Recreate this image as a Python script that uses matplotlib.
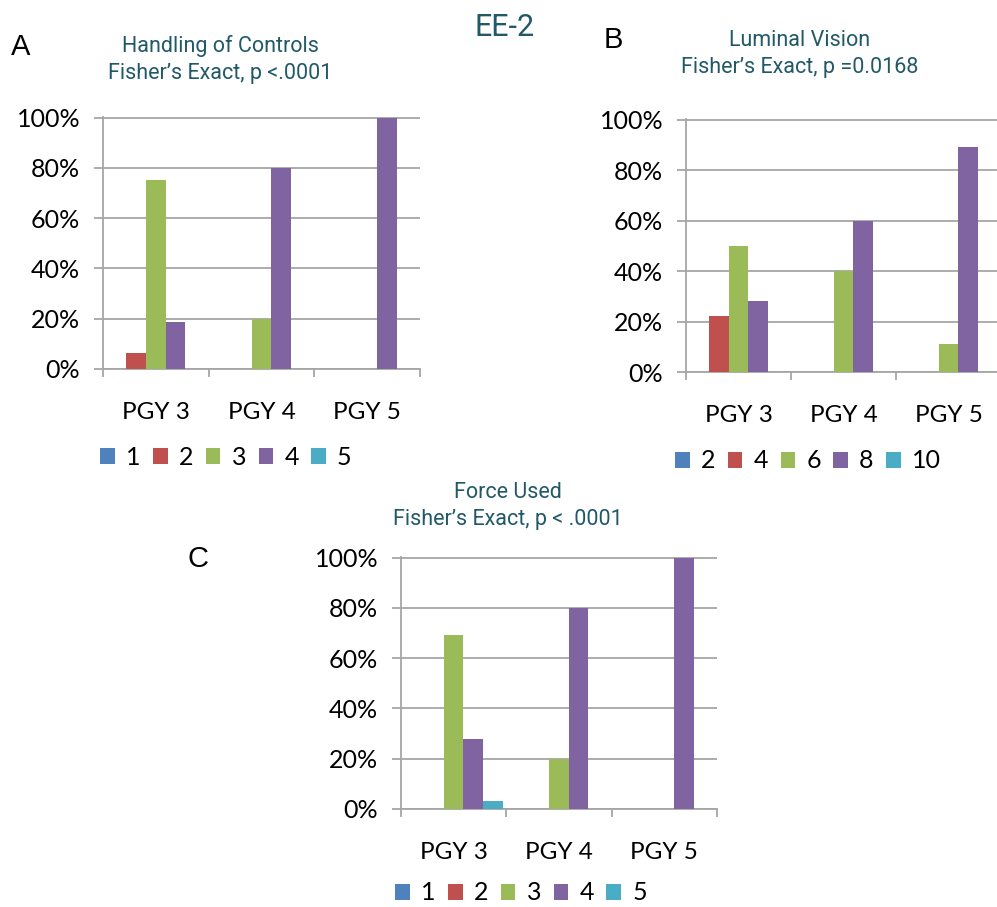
import matplotlib.pyplot as plt
from matplotlib.patches import Patch

# Excel 2007 default series colours
colors = ["#4F81BD", "#C0504D", "#9BBB59", "#8064A2", "#4BACC6"]
groups = ["PGY 3", "PGY 4", "PGY 5"]
teal = "#215968"

# A: Handling of Controls (percent per series, over PGY 3/4/5)
controls_series = ["1", "2", "3", "4", "5"]
controls_values = [[0, 0, 0], [6.25, 0, 0], [75, 20, 0], [18.75, 80, 100], [0, 0, 0]]

# B: Luminal Vision
vision_series = ["2", "4", "6", "8", "10"]
vision_values = [[0, 0, 0], [22, 0, 0], [50, 40, 11], [28, 60, 89], [0, 0, 0]]

# C: Force Used
force_series = ["1", "2", "3", "4", "5"]
force_values = [[0, 0, 0], [0, 0, 0], [69, 20, 0], [28, 80, 100], [3, 0, 0]]

W, H = 997, 907
plt.rcParams["font.family"] = ["Lato", "DejaVu Sans"]
fig = plt.figure(figsize=(W / 100, H / 100), dpi=100)


def px_axes(left, top, right, bottom):
    return fig.add_axes([left / W, 1 - bottom / H, (right - left) / W, (bottom - top) / H])


def panel(ax, series, values, legend_xy):
    bw = 0.186
    for j, vals in enumerate(values):
        xs = [i + (j - 2) * bw for i in range(len(groups))]
        ax.bar(xs, [v / 100 for v in vals], width=bw, color=colors[j], zorder=3)
    ax.set_xlim(-0.5, 2.5)
    ax.set_ylim(0, 1.002)
    ax.set_yticks([0, 0.2, 0.4, 0.6, 0.8, 1.0])
    ax.set_yticklabels(["0%", "20%", "40%", "60%", "80%", "100%"])
    ax.set_xticks([0, 1, 2])
    ax.set_xticklabels(groups)
    ax.set_xticks([-0.5, 0.5, 1.5, 2.5], minor=True)
    ax.tick_params(axis="x", which="major", length=0, pad=24, labelsize=17.5)
    ax.tick_params(axis="x", which="minor", length=6, width=1.3, color="#a6a6a6")
    ax.tick_params(axis="y", length=6.5, width=1.3, color="#a6a6a6", pad=10, labelsize=18)
    ax.yaxis.grid(True, color="#a6a6a6", lw=1.3, zorder=0)
    ax.set_axisbelow(True)
    for s in ["top", "right"]:
        ax.spines[s].set_visible(False)
    for s in ["left", "bottom"]:
        ax.spines[s].set_color("#a6a6a6")
        ax.spines[s].set_linewidth(1.3)
    handles = [Patch(facecolor=c, edgecolor="none") for c in colors]
    fig.legend(handles, series, loc="center", ncol=5, frameon=False,
               bbox_to_anchor=(legend_xy[0] / W, 1 - legend_xy[1] / H),
               fontsize=18, handlelength=0.58, handleheight=0.62,
               handletextpad=0.45, columnspacing=0.5)


axA = px_axes(103, 117, 420, 369)
panel(axA, controls_series, controls_values, (226, 457))
axB = px_axes(686, 119, 1001, 372)
panel(axB, vision_series, vision_values, (808, 461))
axC = px_axes(401, 557, 717, 809)
panel(axC, force_series, force_values, (521, 893))

fig.text(505 / W, 1 - 27 / H, "EE-2", ha="center", va="center", fontsize=22,
         color=teal, family=["Roboto", "DejaVu Sans"])

titles = [
    (220, 46, "Handling of Controls"), (220, 73, "Fisher\u2019s Exact, p <.0001"),
    (800, 40, "Luminal Vision"), (800, 68, "Fisher\u2019s Exact, p =0.0168"),
    (508, 492, "Force Used"), (508, 520, "Fisher\u2019s Exact, p < .0001"),
]
for x, y, t in titles:
    fig.text(x / W, 1 - y / H, t, ha="center", va="center", fontsize=15.5,
             color=teal, family=["Roboto", "DejaVu Sans"])

for x, y, t in [(21, 47, "A"), (613, 40, "B"), (198, 559, "C")]:
    fig.text(x / W, 1 - y / H, t, ha="center", va="center", fontsize=21,
             family=["Liberation Sans", "DejaVu Sans"])

fig.savefig("out.png", dpi=100)
